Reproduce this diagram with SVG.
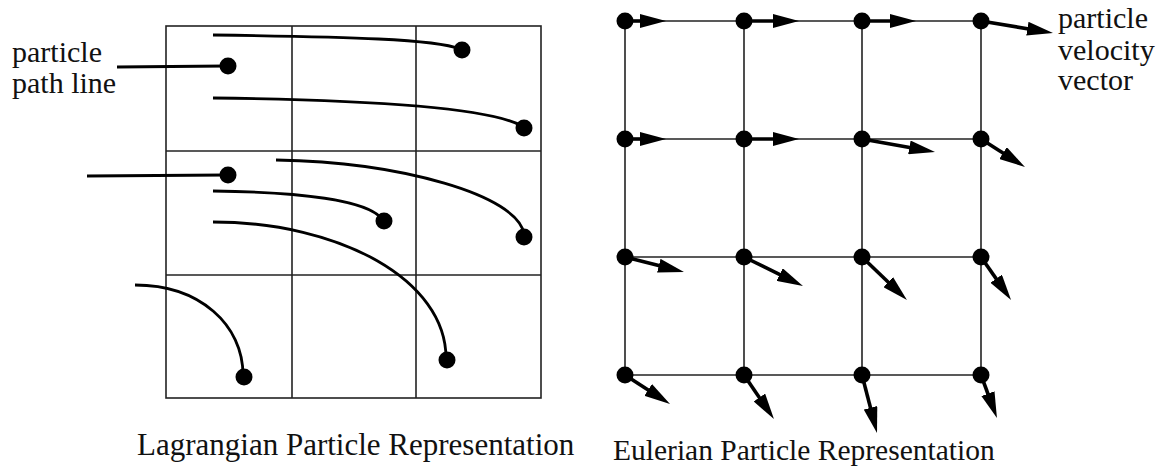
<svg xmlns="http://www.w3.org/2000/svg" width="1168" height="469" viewBox="0 0 1168 469">
<style>
.grid{stroke:#222;stroke-width:1.6;fill:none}
.path{stroke:#000;stroke-width:2.8;fill:none;stroke-linecap:butt}
.dot{fill:#000}
.vec{stroke:#000;stroke-width:3.6;fill:none}
.lbl{font-family:"Liberation Serif","Times New Roman",serif;font-size:30px;fill:#111}
.cap{font-family:"Liberation Serif","Times New Roman",serif;fill:#111}
</style>
<defs>
<marker id="head" markerUnits="userSpaceOnUse" markerWidth="26" markerHeight="14" refX="6" refY="7" orient="auto" viewBox="0 0 26 14">
<path d="M0,0 L26,7 L0,14 z" fill="#000"/>
</marker>
</defs>
<rect width="1168" height="469" fill="#fff"/>

<g id="lagrangian-grid" class="grid">
<rect x="166" y="26" width="375" height="372"/>
<line x1="292" y1="26" x2="292" y2="398"/>
<line x1="416" y1="26" x2="416" y2="398"/>
<line x1="166" y1="151" x2="541" y2="151"/>
<line x1="166" y1="275" x2="541" y2="275"/>
</g>

<g id="lagrangian-particles">
<g id="particle-1"><path class="path" d="M213,35 C350,37 435,39 460,49"/><circle class="dot" cx="462" cy="50" r="8.5"/></g>
<g id="particle-2"><path class="path" d="M117,67 L226,66"/><circle class="dot" cx="228" cy="66" r="8.5"/></g>
<g id="particle-3"><path class="path" d="M213,98 C380,100 490,108 522,126"/><circle class="dot" cx="524" cy="128" r="8.5"/></g>
<g id="particle-4"><path class="path" d="M87,176 L226,175"/><circle class="dot" cx="228" cy="175" r="8.5"/></g>
<g id="particle-5"><path class="path" d="M276,160 C400,162 518,195 524,234"/><circle class="dot" cx="524" cy="237" r="8.5"/></g>
<g id="particle-6"><path class="path" d="M213,191 C300,192 368,200 382,219"/><circle class="dot" cx="384" cy="221" r="8.5"/></g>
<g id="particle-7"><path class="path" d="M213,222 C340,222 446,280 446,358"/><circle class="dot" cx="447" cy="360" r="8.5"/></g>
<g id="particle-8"><path class="path" d="M135,285 C200,285 243,325 243,375"/><circle class="dot" cx="244" cy="377" r="8.5"/></g>
</g>

<g id="eulerian-grid" class="grid">
<line x1="625" y1="21" x2="981" y2="21"/>
<line x1="625" y1="139" x2="981" y2="139"/>
<line x1="625" y1="257" x2="981" y2="257"/>
<line x1="625" y1="375" x2="981" y2="375"/>
<line x1="625" y1="21" x2="625" y2="375"/>
<line x1="744" y1="21" x2="744" y2="375"/>
<line x1="862" y1="21" x2="862" y2="375"/>
<line x1="981" y1="21" x2="981" y2="375"/>
</g>

<g id="velocity-vectors">
<line class="vec" x1="625" y1="21" x2="646" y2="21" marker-end="url(#head)"/>
<line class="vec" x1="744" y1="21" x2="779" y2="21" marker-end="url(#head)"/>
<line class="vec" x1="862" y1="21" x2="896" y2="21" marker-end="url(#head)"/>
<line class="vec" x1="981" y1="21" x2="1033.3" y2="29.7" marker-end="url(#head)"/>
<line class="vec" x1="625" y1="139" x2="646" y2="139" marker-end="url(#head)"/>
<line class="vec" x1="744" y1="139" x2="779" y2="139" marker-end="url(#head)"/>
<line class="vec" x1="862" y1="139" x2="915.3" y2="148.5" marker-end="url(#head)"/>
<line class="vec" x1="981" y1="139" x2="1008.1" y2="156.3" marker-end="url(#head)"/>
<line class="vec" x1="625" y1="257" x2="664.6" y2="267.1" marker-end="url(#head)"/>
<line class="vec" x1="744" y1="257" x2="785" y2="277.2" marker-end="url(#head)"/>
<line class="vec" x1="862" y1="257" x2="892.5" y2="286.2" marker-end="url(#head)"/>
<line class="vec" x1="981" y1="257" x2="999.6" y2="283.6" marker-end="url(#head)"/>
<line class="vec" x1="625" y1="375" x2="653.2" y2="393.2" marker-end="url(#head)"/>
<line class="vec" x1="744" y1="375" x2="762.7" y2="402.5" marker-end="url(#head)"/>
<line class="vec" x1="862" y1="375" x2="872" y2="413.6" marker-end="url(#head)"/>
<line class="vec" x1="981" y1="375" x2="990" y2="399.3" marker-end="url(#head)"/>
</g>

<g id="eulerian-nodes" class="dot">
<g id="node-r1c1"><circle cx="625" cy="21" r="8.5"/></g>
<g id="node-r1c2"><circle cx="744" cy="21" r="8.5"/></g>
<g id="node-r1c3"><circle cx="862" cy="21" r="8.5"/></g>
<g id="node-r1c4"><circle cx="981" cy="21" r="8.5"/></g>
<g id="node-r2c1"><circle cx="625" cy="139" r="8.5"/></g>
<g id="node-r2c2"><circle cx="744" cy="139" r="8.5"/></g>
<g id="node-r2c3"><circle cx="862" cy="139" r="8.5"/></g>
<g id="node-r2c4"><circle cx="981" cy="139" r="8.5"/></g>
<g id="node-r3c1"><circle cx="625" cy="257" r="8.5"/></g>
<g id="node-r3c2"><circle cx="744" cy="257" r="8.5"/></g>
<g id="node-r3c3"><circle cx="862" cy="257" r="8.5"/></g>
<g id="node-r3c4"><circle cx="981" cy="257" r="8.5"/></g>
<g id="node-r4c1"><circle cx="625" cy="375" r="8.5"/></g>
<g id="node-r4c2"><circle cx="744" cy="375" r="8.5"/></g>
<g id="node-r4c3"><circle cx="862" cy="375" r="8.5"/></g>
<g id="node-r4c4"><circle cx="981" cy="375" r="8.5"/></g>
</g>

<g id="labels">
<text class="lbl" x="12" y="62">particle</text>
<text class="lbl" x="12" y="93">path line</text>
<text class="lbl" x="1058" y="28" font-size="29">particle</text>
<text class="lbl" x="1058" y="60" font-size="29">velocity</text>
<text class="lbl" x="1058" y="90" font-size="29">vector</text>
<text class="cap" x="137" y="455" font-size="31">Lagrangian Particle Representation</text>
<text class="cap" x="613" y="460" font-size="29.5">Eulerian Particle Representation</text>
</g>
</svg>
